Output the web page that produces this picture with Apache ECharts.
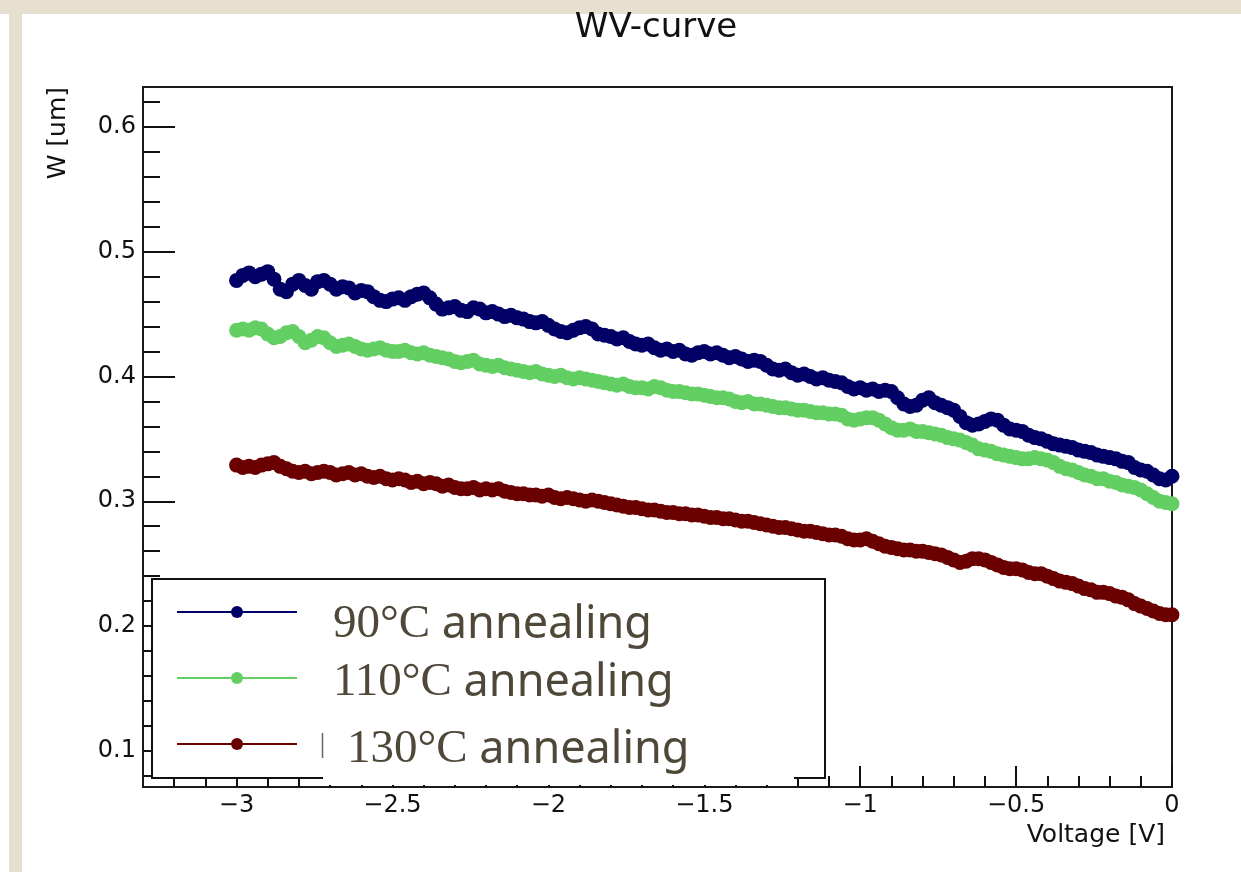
<!DOCTYPE html>
<html>
<head>
<meta charset="utf-8">
<title>WV-curve</title>
<script src="https://cdn.jsdelivr.net/npm/echarts@6/dist/echarts.min.js"></script>
<style>
  html, body { margin: 0; padding: 0; background: #ffffff; }
  #chart { width: 1241px; height: 872px; }
</style>
</head>
<body>
<div id="chart"></div>
<script>
// Reverse-bias sweep (V) shared by all three samples
const VOLTAGE = [
  -3.00,-2.98,-2.96,-2.94,-2.92,-2.90,-2.88,-2.86,-2.84,-2.82,
  -2.80,-2.78,-2.76,-2.74,-2.72,-2.70,-2.68,-2.66,-2.64,-2.62,
  -2.60,-2.58,-2.56,-2.54,-2.52,-2.50,-2.48,-2.46,-2.44,-2.42,
  -2.40,-2.38,-2.36,-2.34,-2.32,-2.30,-2.28,-2.26,-2.24,-2.22,
  -2.20,-2.18,-2.16,-2.14,-2.12,-2.10,-2.08,-2.06,-2.04,-2.02,
  -2.00,-1.98,-1.96,-1.94,-1.92,-1.90,-1.88,-1.86,-1.84,-1.82,
  -1.80,-1.78,-1.76,-1.74,-1.72,-1.70,-1.68,-1.66,-1.64,-1.62,
  -1.60,-1.58,-1.56,-1.54,-1.52,-1.50,-1.48,-1.46,-1.44,-1.42,
  -1.40,-1.38,-1.36,-1.34,-1.32,-1.30,-1.28,-1.26,-1.24,-1.22,
  -1.20,-1.18,-1.16,-1.14,-1.12,-1.10,-1.08,-1.06,-1.04,-1.02,
  -1.00,-0.98,-0.96,-0.94,-0.92,-0.90,-0.88,-0.86,-0.84,-0.82,
  -0.80,-0.78,-0.76,-0.74,-0.72,-0.70,-0.68,-0.66,-0.64,-0.62,
  -0.60,-0.58,-0.56,-0.54,-0.52,-0.50,-0.48,-0.46,-0.44,-0.42,
  -0.40,-0.38,-0.36,-0.34,-0.32,-0.30,-0.28,-0.26,-0.24,-0.22,
  -0.20,-0.18,-0.16,-0.14,-0.12,-0.10,-0.08,-0.06,-0.04,-0.02,
   0.00
];

// Depletion width W (um) after 90 °C annealing
const W_90C = [
  0.477,0.481,0.483,0.480,0.482,0.484,0.478,0.470,0.468,0.474,
  0.477,0.473,0.470,0.476,0.477,0.474,0.470,0.472,0.471,0.467,
  0.469,0.468,0.464,0.461,0.460,0.462,0.463,0.461,0.464,0.466,
  0.467,0.463,0.458,0.454,0.455,0.456,0.453,0.452,0.455,0.454,
  0.451,0.452,0.450,0.448,0.449,0.447,0.446,0.444,0.443,0.444,
  0.441,0.438,0.436,0.435,0.437,0.439,0.440,0.438,0.434,0.433,
  0.432,0.430,0.431,0.428,0.426,0.425,0.426,0.423,0.421,0.422,
  0.420,0.421,0.418,0.417,0.419,0.420,0.418,0.419,0.417,0.415,
  0.416,0.414,0.412,0.413,0.412,0.409,0.406,0.405,0.406,0.403,
  0.401,0.402,0.400,0.398,0.399,0.397,0.396,0.395,0.392,0.390,
  0.391,0.389,0.390,0.388,0.389,0.388,0.383,0.378,0.376,0.377,
  0.381,0.383,0.379,0.377,0.375,0.373,0.368,0.363,0.361,0.362,
  0.364,0.366,0.365,0.361,0.358,0.357,0.356,0.353,0.351,0.350,
  0.348,0.346,0.345,0.344,0.343,0.341,0.340,0.339,0.337,0.336,
  0.335,0.334,0.332,0.331,0.327,0.325,0.324,0.321,0.318,0.317,
  0.320
];

// Depletion width W (um) after 110 °C annealing
const W_110C = [
  0.437,0.438,0.437,0.439,0.438,0.434,0.431,0.432,0.435,0.436,
  0.432,0.427,0.429,0.432,0.431,0.427,0.424,0.425,0.426,0.424,
  0.422,0.421,0.422,0.423,0.421,0.420,0.420,0.421,0.419,0.418,
  0.419,0.417,0.416,0.415,0.414,0.412,0.411,0.412,0.413,0.410,
  0.409,0.408,0.409,0.407,0.406,0.405,0.404,0.403,0.404,0.402,
  0.401,0.400,0.401,0.399,0.398,0.399,0.398,0.397,0.396,0.395,
  0.394,0.393,0.394,0.392,0.391,0.391,0.390,0.392,0.391,0.389,
  0.388,0.388,0.387,0.386,0.386,0.385,0.384,0.383,0.383,0.382,
  0.380,0.379,0.380,0.378,0.378,0.377,0.376,0.375,0.375,0.374,
  0.373,0.373,0.372,0.371,0.371,0.370,0.370,0.369,0.366,0.365,
  0.366,0.367,0.367,0.365,0.362,0.359,0.357,0.357,0.358,0.356,
  0.356,0.355,0.354,0.353,0.351,0.350,0.349,0.347,0.345,0.342,
  0.341,0.340,0.338,0.337,0.336,0.335,0.334,0.334,0.335,0.334,
  0.333,0.331,0.328,0.326,0.325,0.323,0.321,0.320,0.318,0.318,
  0.316,0.315,0.313,0.312,0.311,0.309,0.306,0.303,0.300,0.299,
  0.298
];

// Depletion width W (um) after 130 °C annealing
const W_130C = [
  0.329,0.327,0.328,0.327,0.329,0.330,0.331,0.328,0.326,0.324,
  0.323,0.324,0.322,0.323,0.324,0.323,0.321,0.322,0.323,0.321,
  0.322,0.320,0.319,0.320,0.318,0.317,0.318,0.317,0.315,0.316,
  0.314,0.315,0.314,0.312,0.313,0.311,0.310,0.310,0.311,0.309,
  0.310,0.309,0.310,0.308,0.307,0.306,0.306,0.305,0.305,0.304,
  0.305,0.303,0.302,0.303,0.302,0.301,0.300,0.301,0.300,0.299,
  0.298,0.297,0.296,0.295,0.295,0.294,0.293,0.293,0.292,0.291,
  0.291,0.290,0.290,0.289,0.289,0.288,0.287,0.287,0.286,0.286,
  0.285,0.284,0.284,0.283,0.282,0.281,0.280,0.279,0.279,0.278,
  0.277,0.276,0.276,0.275,0.274,0.273,0.273,0.272,0.270,0.269,
  0.269,0.270,0.268,0.266,0.264,0.263,0.262,0.261,0.261,0.260,
  0.260,0.259,0.258,0.257,0.255,0.253,0.251,0.252,0.254,0.254,
  0.253,0.251,0.249,0.247,0.246,0.246,0.245,0.243,0.242,0.242,
  0.240,0.238,0.236,0.235,0.234,0.232,0.230,0.229,0.227,0.227,
  0.226,0.224,0.223,0.221,0.218,0.216,0.214,0.212,0.210,0.209,
  0.209
];

const SERIES_NAMES = ['90°C annealing', '110°C annealing', '130°C annealing'];

// Axis ticks
const X_MAJOR_TICKS = [-3, -2.5, -2, -1.5, -1, -0.5, 0];
const X_MINOR_TICKS = [-3.2, -3.1, -2.9, -2.8, -2.7, -2.6, -2.4, -2.3, -2.2, -2.1,
                       -1.9, -1.8, -1.7, -1.6, -1.4, -1.3, -1.2, -1.1,
                       -0.9, -0.8, -0.7, -0.6, -0.4, -0.3, -0.2, -0.1];
const Y_MAJOR_TICKS = [0.1, 0.2, 0.3, 0.4, 0.5, 0.6];
const Y_MINOR_TICKS = [0.08, 0.12, 0.14, 0.16, 0.18, 0.22, 0.24, 0.26, 0.28,
                       0.32, 0.34, 0.36, 0.38, 0.42, 0.44, 0.46, 0.48,
                       0.52, 0.54, 0.56, 0.58, 0.62];

const X_RANGE = [-3.3, 0];
const Y_RANGE = [0.071, 0.632];

const COLORS = ['#000066', '#63cf63', '#6a0000'];
const LEGEND_TEXT = '#4f4839';
const AXIS_FONT = 'DejaVu Sans';

const pairs = (ys) => VOLTAGE.map((v, i) => [v, ys[i]]);
const minusSign = (v) => (v < 0 ? '\u2212' + String(Math.abs(v)) : String(v));

const chart = echarts.init(document.getElementById('chart'), null, { renderer: 'canvas' });

const tickLine = { color: '#111', width: 2 };
const hiddenLine = { show: false, onZero: false };

chart.setOption({
  backgroundColor: '#ffffff',
  animation: false,
  title: {
    text: 'WV-curve',
    left: 651,
    top: 6,
    textAlign: 'center',
    textStyle: { fontFamily: AXIS_FONT, fontSize: 34, fontWeight: 'normal', color: '#111' },
    z: 12
  },
  grid: {
    left: 143, right: 69, top: 87, bottom: 85,
    outerBoundsMode: 'none',
    containLabel: false,
    show: true, borderColor: '#1a1a1a', borderWidth: 2, backgroundColor: 'transparent'
  },
  xAxis: [
    {
      type: 'value', min: X_RANGE[0], max: X_RANGE[1], position: 'bottom',
      axisLine: hiddenLine,
      axisTick: { show: true, inside: true, length: 11, lineStyle: tickLine, customValues: X_MINOR_TICKS },
      axisLabel: { show: false },
      splitLine: { show: false }
    },
    {
      type: 'value', min: X_RANGE[0], max: X_RANGE[1], position: 'bottom',
      axisLine: hiddenLine,
      axisTick: { show: true, inside: true, length: 21, lineStyle: tickLine, customValues: X_MAJOR_TICKS },
      axisLabel: {
        show: true, customValues: X_MAJOR_TICKS, margin: 7,
        fontFamily: AXIS_FONT, fontSize: 24, color: '#111',
        formatter: minusSign
      },
      splitLine: { show: false },
      name: 'Voltage [V]',
      nameLocation: 'end',
      nameGap: -7,
      nameMoveOverlap: false,
      nameTextStyle: {
        fontFamily: AXIS_FONT, fontSize: 25, color: '#111',
        align: 'right', verticalAlign: 'top', padding: [36, 0, 0, 0]
      }
    }
  ],
  yAxis: [
    {
      type: 'value', min: Y_RANGE[0], max: Y_RANGE[1], position: 'left',
      axisLine: hiddenLine,
      axisTick: { show: true, inside: true, length: 17, lineStyle: tickLine, customValues: Y_MINOR_TICKS },
      axisLabel: { show: false },
      splitLine: { show: false }
    },
    {
      type: 'value', min: Y_RANGE[0], max: Y_RANGE[1], position: 'left',
      axisLine: hiddenLine,
      axisTick: { show: true, inside: true, length: 32, lineStyle: tickLine, customValues: Y_MAJOR_TICKS },
      axisLabel: {
        show: true, customValues: Y_MAJOR_TICKS, margin: 7,
        fontFamily: AXIS_FONT, fontSize: 24, color: '#111',
        formatter: (v) => v.toFixed(1)
      },
      splitLine: { show: false }
    }
  ],
  legend: {
    orient: 'vertical',
    left: 176,
    top: 574,
    padding: 0,
    itemWidth: 120,
    itemHeight: 15,
    itemGap: -2,
    selectedMode: false,
    data: [
      { name: SERIES_NAMES[0], textStyle: { padding: [26, 0, 0, 31] } },
      { name: SERIES_NAMES[1], textStyle: { padding: [10, 0, 0, 31] } },
      { name: SERIES_NAMES[2], textStyle: { padding: [19, 0, 7, 45] } }
    ],
    formatter: (name) => {
      const cut = name.indexOf(' ');
      return '{n|' + name.slice(0, cut) + '} {a|' + name.slice(cut + 1) + '}';
    },
    textStyle: {
      fontFamily: 'Noto Sans', fontSize: 45, color: LEGEND_TEXT, lineHeight: 50,
      rich: {
        n: { fontFamily: 'Liberation Serif', fontSize: 47, color: LEGEND_TEXT, lineHeight: 50 },
        a: { fontFamily: 'Noto Sans', fontSize: 45, color: LEGEND_TEXT, lineHeight: 50 }
      }
    },
    z: 6
  },
  graphic: [
    // paper margin strips
    { type: 'rect', shape: { x: 0, y: 0, width: 1241, height: 14 }, style: { fill: '#e7dfd0' }, z: 0 },
    { type: 'rect', shape: { x: 9, y: 14, width: 13, height: 858 }, style: { fill: '#e7dfd0' }, z: 0 },
    // legend frame
    { type: 'rect', shape: { x: 152, y: 579, width: 673, height: 199 },
      style: { fill: '#ffffff', stroke: '#111', lineWidth: 2 }, z: 4, z2: 0 },
    // label backing over the lower legend entry
    { type: 'rect', shape: { x: 323, y: 712, width: 471, height: 73 },
      style: { fill: '#ffffff' }, z: 4, z2: 5 },
    { type: 'line', shape: { x1: 322.5, y1: 733, x2: 322.5, y2: 758 },
      style: { stroke: '#666', lineWidth: 1.5 }, z: 4, z2: 6 },
    // y-axis title
    { type: 'text', x: 58, y: 87, rotation: Math.PI / 2,
      style: { text: 'W [um]', fontFamily: AXIS_FONT, fontSize: 25, fill: '#111',
               align: 'right', verticalAlign: 'middle' }, z: 6 }
  ],
  series: SERIES_NAMES.map((name, k) => ({
    name,
    type: 'line',
    xAxisIndex: 0,
    yAxisIndex: 0,
    data: pairs([W_90C, W_110C, W_130C][k]),
    showSymbol: true,
    symbol: 'circle',
    symbolSize: 15,
    color: COLORS[k],
    itemStyle: { color: COLORS[k] },
    lineStyle: { color: COLORS[k], width: 2 },
    emphasis: { disabled: true },
    z: 2
  }))
});
</script>
</body>
</html>
